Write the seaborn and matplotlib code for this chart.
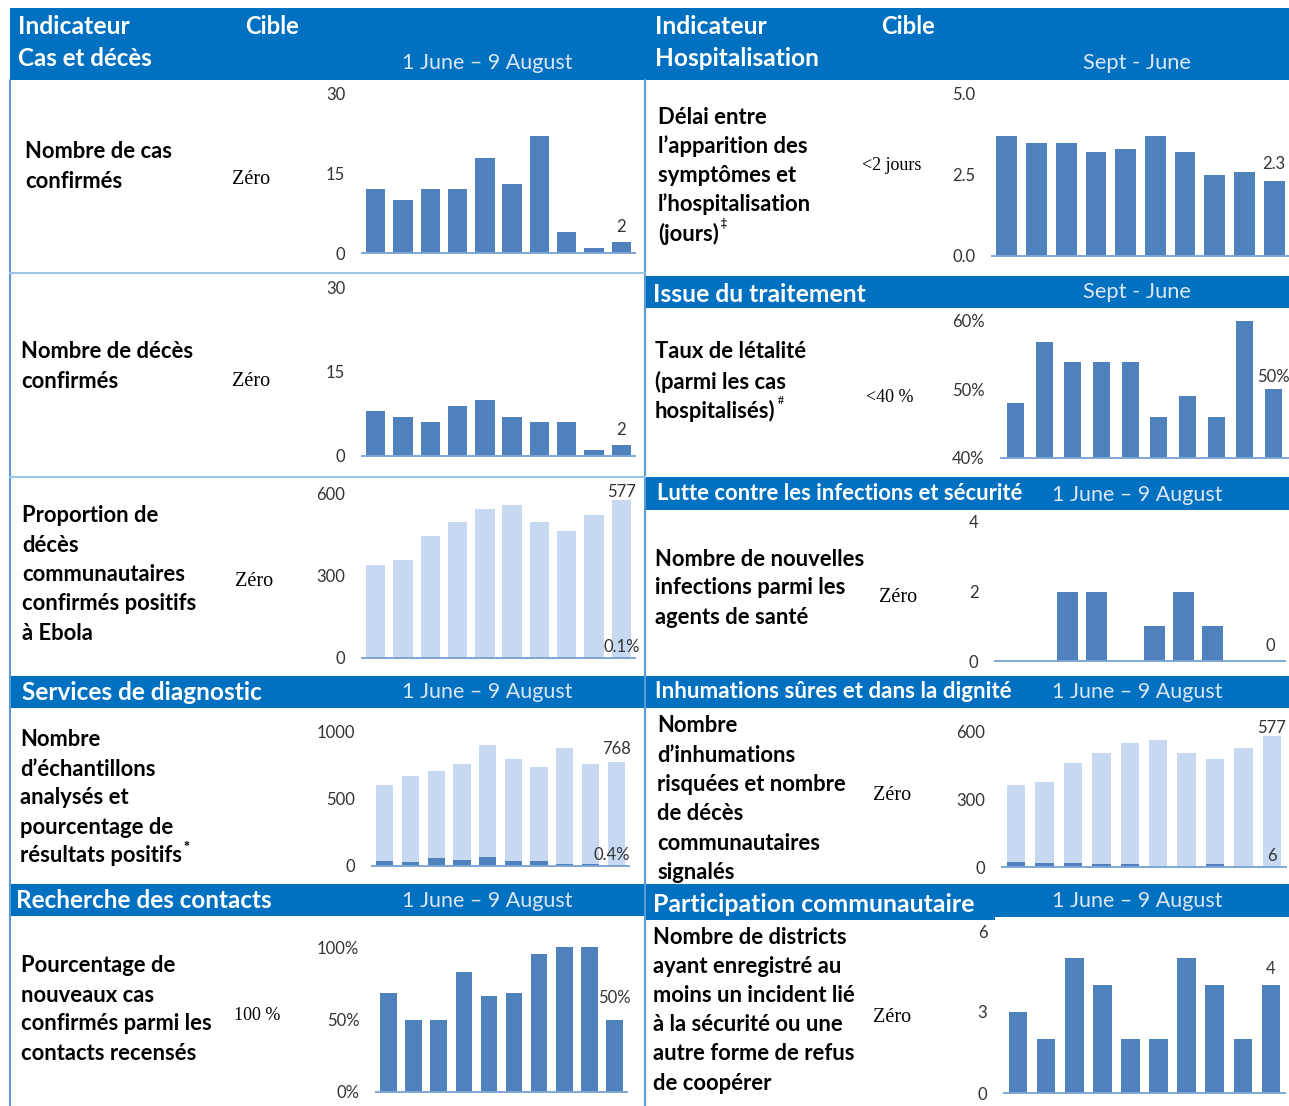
import matplotlib
matplotlib.use("Agg")
import matplotlib.pyplot as plt
from matplotlib.patches import Rectangle
import seaborn as sns
import pandas as pd

sns.set_theme(style="white")
plt.rcParams['font.family'] = ['Lato', 'DejaVu Sans']

# ---------------- data ----------------
periods = list(range(10))
cases_confirmed = [12, 10, 12, 12, 18, 13, 22, 4, 1, 2]
deaths_confirmed = [8, 7, 6, 9, 10, 7, 6, 6, 1, 2]
community_deaths = [340, 358, 447, 497, 545, 559, 497, 464, 522, 577]
community_positive_share = "0.1%"
samples_tested = [603, 670, 707, 754, 893, 790, 736, 877, 754, 768]
samples_positive = [37, 28, 57, 47, 65, 37, 36, 18, 17, 3]
contacts_pct = [68, 50, 50, 83, 66, 68, 95, 100, 100, 50]
delay_days = [3.7, 3.5, 3.5, 3.2, 3.3, 3.7, 3.2, 2.5, 2.6, 2.3]
cfr_pct = [48, 57, 54, 54, 54, 46, 49, 46, 60, 50]
hcw_infections = [0, 0, 2, 2, 0, 1, 2, 1, 0, 0]
community_deaths_reported = [360, 375, 460, 505, 549, 561, 505, 477, 527, 577]
unsafe_burials = [22, 16, 16, 12, 12, 0, 0, 12, 0, 6]
districts_incidents = [3, 2, 5, 4, 2, 2, 5, 4, 2, 4]

# ---------------- style ----------------
W, H, DPI = 1289, 1106, 100
BLUE = "#0070C0"
DARK = "#4F81BD"
LIGHT = "#C6D9F1"
AXIS = "#7FA6D6"
GRID_LINE = "#9DC3E6"
TICK = "#333333"
DATE_COL = "#DCE7F5"
SERIF = ['Liberation Serif', 'DejaVu Serif']
TICK_SIZE = 12

fig = plt.figure(figsize=(W / DPI, H / DPI), dpi=DPI)
bg = fig.add_axes([0, 0, 1, 1], zorder=0)
bg.set_xlim(0, W)
bg.set_ylim(H, 0)
bg.axis('off')
renderer = fig.canvas.get_renderer()


def rect(x0, y0, x1, y1, color):
    bg.add_patch(Rectangle((x0, y0), x1 - x0, y1 - y0, color=color, lw=0))


def fit_text(x, y, s, width, **kw):
    """Write s and rescale its font so that it spans `width` pixels."""
    t = bg.text(x, y, s, **kw)
    w = t.get_window_extent(renderer).width
    t.set_fontsize(t.get_fontsize() * width / w)
    return t


# body label size: "Nombre de cas" spans about 148 px
_probe = bg.text(0, 0, "Nombre de cas", fontsize=15, fontweight='bold')
LABEL_SIZE = 15 * 148 / _probe.get_window_extent(renderer).width
_probe.remove()


def lines(x, y0, step, rows, sup=None):
    t = None
    for i, r in enumerate(rows):
        t = bg.text(x, y0 + i * step, r, fontsize=LABEL_SIZE, fontweight='bold',
                    color='black', va='center', ha='left')
    if sup:
        bb = t.get_window_extent(renderer)
        bg.text(bb.x1 + 2, y0 + (len(rows) - 1) * step - 10, sup,
                fontsize=8.5, fontweight='bold', color='black', va='center', ha='left',
                family=SERIF)


def target(x, y, s, size=13):
    bg.text(x, y, s, fontsize=size, family=SERIF, color='black', va='center', ha='left')


def header_title(x, y, s, width):
    fit_text(x, y, s, width, fontsize=16, fontweight='bold', color='white',
             va='center', ha='left')


def header_date(xc, y, s, width):
    fit_text(xc, y, s, width, fontsize=15, color=DATE_COL, va='center', ha='center')


def bar_panel(box, values, ylim, ticks, ticklabels, width=0.7, light=False, overlay=None):
    x0, x1, yb, yt = box
    ax = fig.add_axes([x0 / W, 1 - yb / H, (x1 - x0) / W, (yb - yt) / H], zorder=2)
    df = pd.DataFrame({'period': periods, 'value': values})
    sns.barplot(data=df, x='period', y='value', ax=ax, color=LIGHT if light else DARK,
                width=width, saturation=1, errorbar=None, linewidth=0)
    if overlay is not None:
        dfo = pd.DataFrame({'period': periods, 'value': overlay})
        sns.barplot(data=dfo, x='period', y='value', ax=ax, color=DARK,
                    width=width, saturation=1, errorbar=None, linewidth=0)
    ax.set_xlim(-0.5, len(periods) - 0.5)
    ax.set_ylim(*ylim)
    ax.set_yticks(ticks)
    ax.set_yticklabels(ticklabels)
    ax.set_xticks([])
    ax.set_xlabel('')
    ax.set_ylabel('')
    for s in ['top', 'right', 'left']:
        ax.spines[s].set_visible(False)
    ax.spines['bottom'].set_color(AXIS)
    ax.spines['bottom'].set_linewidth(1.4)
    ax.tick_params(axis='y', length=0, pad=12, labelsize=TICK_SIZE, labelcolor=TICK)
    ax.patch.set_alpha(0)
    return ax


def value_label(ax, idx, yval, text, dy=3):
    ax.annotate(text, xy=(idx, yval), xytext=(0, dy), textcoords='offset points',
                ha='center', va='bottom', fontsize=TICK_SIZE, color=TICK,
                annotation_clip=False)


# ---------------- frame ----------------
rect(10, 8, 645, 80, BLUE)
rect(645, 8, W, 80, BLUE)
rect(645, 276, W, 308, BLUE)
rect(645, 477, W, 510, BLUE)
rect(10, 676, 645, 708, BLUE)
rect(645, 676, W, 708, BLUE)
rect(10, 884, 645, 916, BLUE)
rect(645, 884, W, 917, BLUE)
rect(645, 884, 995, 920, BLUE)
bg.plot([10, 10], [80, H], color="#5B9BD5", lw=1.5)
bg.plot([645, 645], [80, H], color="#5B9BD5", lw=1.5)
bg.plot([10, 645], [273, 273], color=GRID_LINE, lw=1.5)
bg.plot([10, 645], [477, 477], color=GRID_LINE, lw=1.5)

# ---------------- headers ----------------
header_title(18, 26, "Indicateur", 112)
header_title(245, 26, "Cible", 54)
header_title(18, 58, "Cas et décès", 135)
header_date(487, 63, "1 June – 9 August", 171)
header_title(655, 26, "Indicateur", 112)
header_title(881, 26, "Cible", 54)
header_title(655, 58, "Hospitalisation", 164)
header_date(1137, 63, "Sept - June", 108)

header_title(653, 294, "Issue du traitement", 214)
header_date(1137, 292, "Sept - June", 108)
header_title(657, 493, "Lutte contre les infections et sécurité", 366)
header_date(1137, 495, "1 June – 9 August", 171)
header_title(22, 692, "Services de diagnostic", 241)
header_date(487, 692, "1 June – 9 August", 171)
header_title(655, 692, "Inhumations sûres et dans la dignité", 358)
header_date(1137, 692, "1 June – 9 August", 171)
header_title(16, 901, "Recherche des contacts", 257)
header_date(487, 901, "1 June – 9 August", 171)
header_title(653, 905, "Participation communautaire", 322)
header_date(1137, 901, "1 June – 9 August", 171)

# ---------------- row labels and targets ----------------
lines(25, 152, 29, ["Nombre de cas", "confirmés"])
lines(21, 351, 30, ["Nombre de décès", "confirmés"])
lines(22, 516, 29.3, ["Proportion de", "décès", "communautaires",
                      "confirmés positifs", "à Ebola"])
lines(20, 740, 29, ["Nombre", "d’échantillons", "analysés et",
                    "pourcentage de", "résultats positifs"], sup="*")
lines(21, 966, 29, ["Pourcentage de", "nouveaux cas", "confirmés parmi les",
                    "contacts recensés"])
lines(658, 117, 29.2, ["Délai entre", "l’apparition des", "symptômes et",
                       "l’hospitalisation", "(jours)"], sup="‡")
lines(655, 352, 29.5, ["Taux de létalité", "(parmi les cas", "hospitalisés)"], sup="#")
lines(655, 559, 29, ["Nombre de nouvelles", "infections parmi les", "agents de santé"])
lines(657, 726, 29.3, ["Nombre", "d’inhumations", "risquées et nombre", "de décès",
                       "communautaires", "signalés"])
lines(653, 937, 29.2, ["Nombre de districts", "ayant enregistré au",
                       "moins un incident lié", "à la sécurité ou une",
                       "autre forme de refus", "de coopérer"])

target(232, 179, "Zéro", 14.5)
target(232, 382, "Zéro", 14.5)
target(235, 582, "Zéro", 14.5)
target(234, 1016, "100 %")
target(862, 166, "<2 jours")
target(866, 397, "<40 %")
target(879, 598, "Zéro", 14.5)
target(873, 795, "Zéro", 14.5)
target(873, 1017, "Zéro", 14.5)

# ---------------- charts ----------------
ax = bar_panel((362, 635, 253, 94), cases_confirmed, (0, 30), [0, 15, 30], ["0", "15", "30"], 0.71)
value_label(ax, 9, cases_confirmed[-1], f"{cases_confirmed[-1]}", dy=5)

ax = bar_panel((362, 635, 456, 288), deaths_confirmed, (0, 30), [0, 15, 30], ["0", "15", "30"], 0.71)
value_label(ax, 9, deaths_confirmed[-1], f"{deaths_confirmed[-1]}", dy=5)

ax = bar_panel((362, 635, 658, 494), community_deaths, (0, 600), [0, 300, 600],
               ["0", "300", "600"], 0.71, light=True)
value_label(ax, 9, community_deaths[-1], f"{community_deaths[-1]}", dy=0)
ax.annotate(community_positive_share, xy=(9, 0), xytext=(0, 2), textcoords='offset points',
            ha='center', va='bottom', fontsize=TICK_SIZE, color=TICK)

ax = bar_panel((372, 629, 866, 731), samples_tested, (0, 1000), [0, 500, 1000],
               ["0", "500", "1000"], 0.67, light=True, overlay=samples_positive)
value_label(ax, 9, samples_tested[-1], f"{samples_tested[-1]}", dy=4)
share = samples_positive[-1] / samples_tested[-1] * 100
ax.annotate(f"{share:.1f}%", xy=(9, samples_positive[-1]), xytext=(-3, 2),
            textcoords='offset points', ha='center', va='bottom', fontsize=TICK_SIZE,
            color=TICK)

ax = bar_panel((376, 627, 1092, 947), contacts_pct, (0, 100), [0, 50, 100],
               ["0%", "50%", "100%"], 0.66)
value_label(ax, 9, contacts_pct[-1], f"{contacts_pct[-1]}%", dy=10)

ax = bar_panel((992, 1289, 256, 94), delay_days, (0, 5), [0, 2.5, 5],
               ["0.0", "2.5", "5.0"], 0.7)
value_label(ax, 9, delay_days[-1], f"{delay_days[-1]:.1f}", dy=7)

ax = bar_panel((1001, 1288, 458, 321), cfr_pct, (40, 60), [40, 50, 60],
               ["40%", "50%", "60%"], 0.59)
value_label(ax, 9, cfr_pct[-1], f"{cfr_pct[-1]}%", dy=3)

ax = bar_panel((995, 1285, 661, 522), hcw_infections, (0, 4), [0, 2, 4],
               ["0", "2", "4"], 0.7)
value_label(ax, 9, hcw_infections[-1], f"{hcw_infections[-1]}", dy=5)

ax = bar_panel((1002, 1286, 867, 731), community_deaths_reported, (0, 600), [0, 300, 600],
               ["0", "300", "600"], 0.65, light=True, overlay=unsafe_burials)
value_label(ax, 9, community_deaths_reported[-1], f"{community_deaths_reported[-1]}", dy=0)
value_label(ax, 9, unsafe_burials[-1], f"{unsafe_burials[-1]}", dy=1)

ax = bar_panel((1004, 1285, 1093, 931), districts_incidents, (0, 6), [0, 3, 6],
               ["0", "3", "6"], 0.66)
value_label(ax, 9, districts_incidents[-1], f"{districts_incidents[-1]}", dy=6)

fig.savefig("out.png", dpi=DPI)
